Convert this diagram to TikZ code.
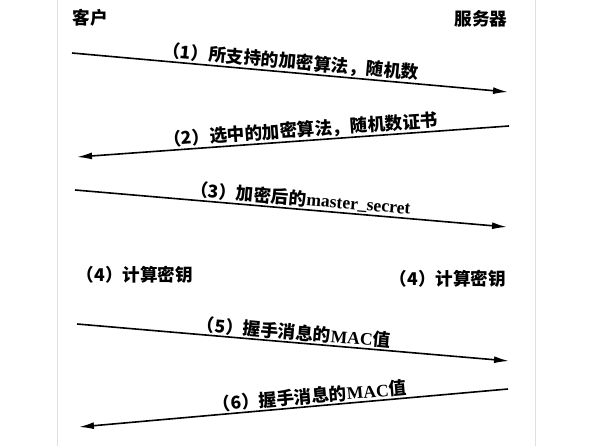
\documentclass[tikz,border=0pt]{standalone}
\usepackage{fontspec}
\setmainfont{Liberation Serif}
\newfontfamily\cjk{Noto Sans CJK SC}
\usetikzlibrary{arrows.meta,positioning}

\begin{document}
\begin{tikzpicture}[x=1pt,y=-1pt,
		msg/.style={line width=1.6pt,-{Latex[length=15pt,width=7pt]}},
		lbl/.style={sloped,above,inner sep=1pt,font=\fontsize{17.6}{19}\selectfont\bfseries\cjk},
		txt/.style={inner sep=0pt,font=\fontsize{17.6}{19}\selectfont\bfseries\cjk}]
		\useasboundingbox (0,0) rectangle (589,446);
		\draw[black!12] (57,0) -- (57,446);
		\draw[black!12] (535,0) -- (535,446);
		\node[txt] (client) at (90,18) {客户};
		\node[txt] (server) at (481,19) {服务器};
		% message ends
		\coordinate (c1) at (72,53);
		\coordinate (s1) at (508,92);
		\coordinate (s2) at (509,126);
		\coordinate (c2) at (77,157);
		\coordinate (c3) at (75,190);
		\coordinate (s3) at (507,227);
		\coordinate (c5) at (77,324);
		\coordinate (s5) at (509,361);
		\coordinate (s6) at (508,389);
		\coordinate (c6) at (79,427);
		\draw[msg] (c1) -- node[lbl] (m1) {（1）所支持的加密算法，随机数} (s1);
		\draw[msg] (s2) -- node[lbl,pos=0.48] (m2) {（2）选中的加密算法，随机数证书} (c2);
		\draw[msg] (c3) -- node[lbl,pos=0.52] (m3) {（3）加密后的{\rmfamily master\_secret}} (s3);
		\node[txt] (k1) at (135,275) {（4）计算密钥};
		\node[txt] (k2) at (448,279) {（4）计算密钥};
		\draw[msg] (c5) -- node[lbl] (m5) {（5）握手消息的{\rmfamily MAC}值} (s5);
		\draw[msg] (s6) -- node[lbl,pos=0.46] (m6) {（6）握手消息的{\rmfamily MAC}值} (c6);
\end{tikzpicture}
\end{document}
